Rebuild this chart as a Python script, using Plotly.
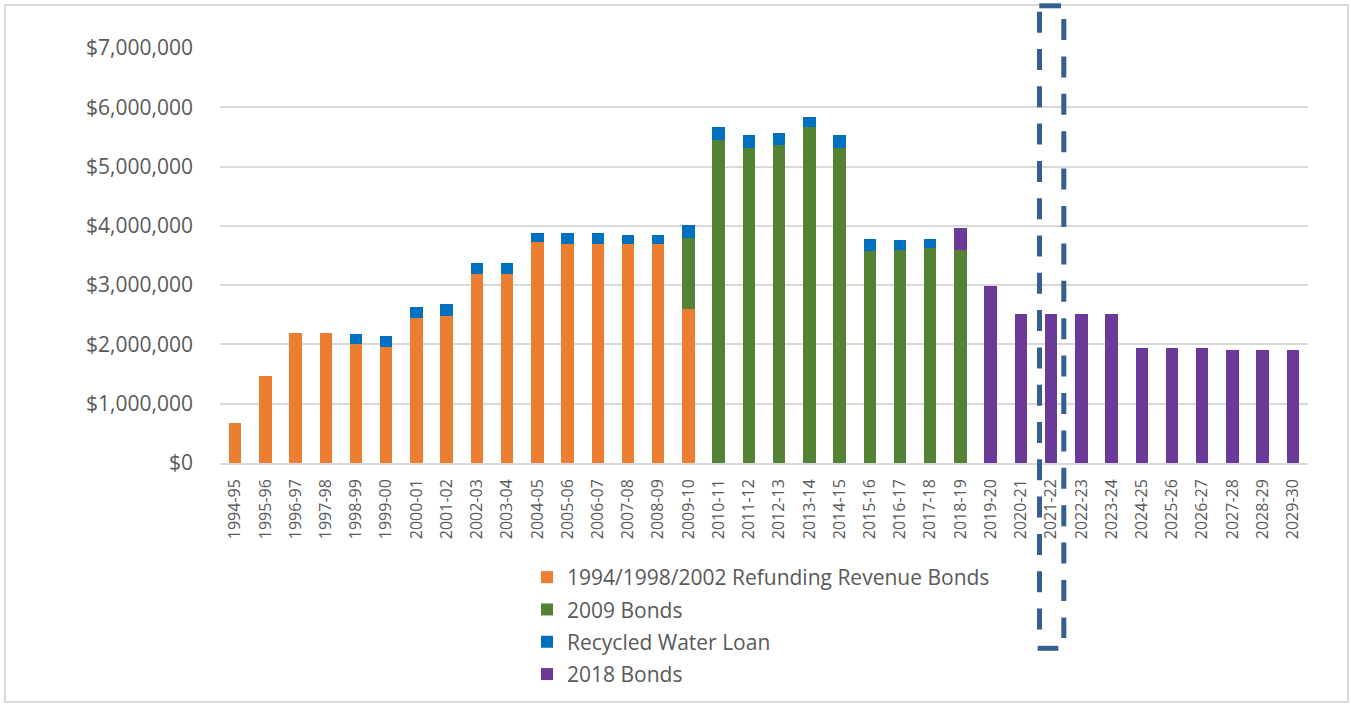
import plotly.graph_objects as go

# Fiscal years on the category axis
years = [
    "1994-95", "1995-96", "1996-97", "1997-98", "1998-99", "1999-00",
    "2000-01", "2001-02", "2002-03", "2003-04", "2004-05", "2005-06",
    "2006-07", "2007-08", "2008-09", "2009-10", "2010-11", "2011-12",
    "2012-13", "2013-14", "2014-15", "2015-16", "2016-17", "2017-18",
    "2018-19", "2019-20", "2020-21", "2021-22", "2022-23", "2023-24",
    "2024-25", "2025-26", "2026-27", "2027-28", "2028-29", "2029-30",
]

# Annual debt service by issue (dollars); None where the issue has no payment
refunding_bonds = [
    680000, 1460000, 2200000, 2200000, 2000000, 1950000,
    2450000, 2480000, 3180000, 3180000, 3720000, 3690000,
    3690000, 3690000, 3690000, 2590000, None, None,
    None, None, None, None, None, None,
    None, None, None, None, None, None,
    None, None, None, None, None, None,
]
bonds_2009 = [
    None, None, None, None, None, None,
    None, None, None, None, None, None,
    None, None, None, 1210000, 5450000, 5320000,
    5360000, 5660000, 5320000, 3580000, 3590000, 3620000,
    3590000, None, None, None, None, None,
    None, None, None, None, None, None,
]
recycled_water_loan = [
    None, None, None, None, 180000, 190000,
    180000, 200000, 190000, 190000, 160000, 190000,
    190000, 160000, 160000, 210000, 210000, 210000,
    210000, 180000, 210000, 200000, 170000, 160000,
    None, None, None, None, None, None,
    None, None, None, None, None, None,
]
bonds_2018 = [
    None, None, None, None, None, None,
    None, None, None, None, None, None,
    None, None, None, None, None, None,
    None, None, None, None, None, None,
    380000, 2990000, 2515000, 2515000, 2515000, 2515000,
    1937000, 1937000, 1937000, 1908000, 1908000, 1908000,
]

series_names = [
    "1994/1998/2002 Refunding Revenue Bonds",
    "2009 Bonds",
    "Recycled Water Loan",
    "2018 Bonds",
]
series_values = [refunding_bonds, bonds_2009, recycled_water_loan, bonds_2018]
series_colors = ["#ED7D31", "#548235", "#0070C0", "#6B3A99"]

TEXT = "#595959"
GRID = "#D9D9D9"
FONT = "Open Sans"

W, H = 1351, 707
L, R, T, B = 220, 1308, 48, 463  # plot area edges in pixels


def px_x(x):
    return (x - L) / (R - L)


def px_y(y):
    return (B - y) / (B - T)


fig = go.Figure()
for i, (name, vals, col) in enumerate(zip(series_names, series_values, series_colors)):
    fig.add_trace(go.Bar(
        x=years, y=vals, name=name,
        marker=dict(color=col, line=dict(width=0)),
        legendgroup=f"g{i}",
    ))

shapes = [
    # outer chart frame
    dict(type="rect", xref="paper", yref="paper",
         x0=px_x(5), x1=px_x(1348), y0=px_y(702), y1=px_y(5),
         line=dict(color=GRID, width=2), fillcolor="rgba(0,0,0,0)", layer="below"),
]

# dashed highlight around 2021-22
BOX = "#355E91"
shapes += [
    dict(type="line", xref="paper", yref="paper",
         x0=px_x(1039.5), x1=px_x(1039.5), y0=px_y(11.7), y1=px_y(631),
         line=dict(color=BOX, width=5, dash="21px,16.3px")),
    dict(type="line", xref="paper", yref="paper",
         x0=px_x(1063.8), x1=px_x(1063.8), y0=px_y(19), y1=px_y(638),
         line=dict(color=BOX, width=5, dash="21px,16.4px")),
    dict(type="line", xref="paper", yref="paper",
         x0=px_x(1039.3), x1=px_x(1061), y0=px_y(5.8), y1=px_y(5.8),
         line=dict(color=BOX, width=5)),
    dict(type="line", xref="paper", yref="paper",
         x0=px_x(1037.7), x1=px_x(1058.3), y0=px_y(648.3), y1=px_y(648.3),
         line=dict(color=BOX, width=5)),
]

fig.update_layout(
    width=W, height=H,
    margin=dict(l=L, r=W - R, t=T, b=H - B, autoexpand=False),
    paper_bgcolor="white", plot_bgcolor="white",
    barmode="stack", bargap=0.59,
    font=dict(family=FONT, color=TEXT),
    showlegend=True,
    legend=dict(
        orientation="v", traceorder="grouped",
        x=px_x(527), xanchor="left", y=px_y(557), yanchor="top",
        font=dict(size=21, color=TEXT, family=FONT),
        itemwidth=30, tracegroupgap=2,
        bgcolor="rgba(0,0,0,0)",
    ),
    xaxis=dict(
        type="category", tickangle=-90,
        tickfont=dict(size=16, color=TEXT, family=FONT),
        showgrid=False, showline=True, linecolor=GRID, linewidth=1.5,
        ticks="", ticklabelstandoff=8,
    ),
    yaxis=dict(
        range=[0, 7000000], dtick=1000000, tickprefix="$", tickformat=",",
        tickfont=dict(size=21, color=TEXT, family=FONT),
        showgrid=True, gridcolor=GRID, gridwidth=1.5,
        zeroline=False, showline=False, ticks="", ticklabelstandoff=26,
    ),
    shapes=shapes,
)

fig.write_html("out.html", config={"displayModeBar": False})
